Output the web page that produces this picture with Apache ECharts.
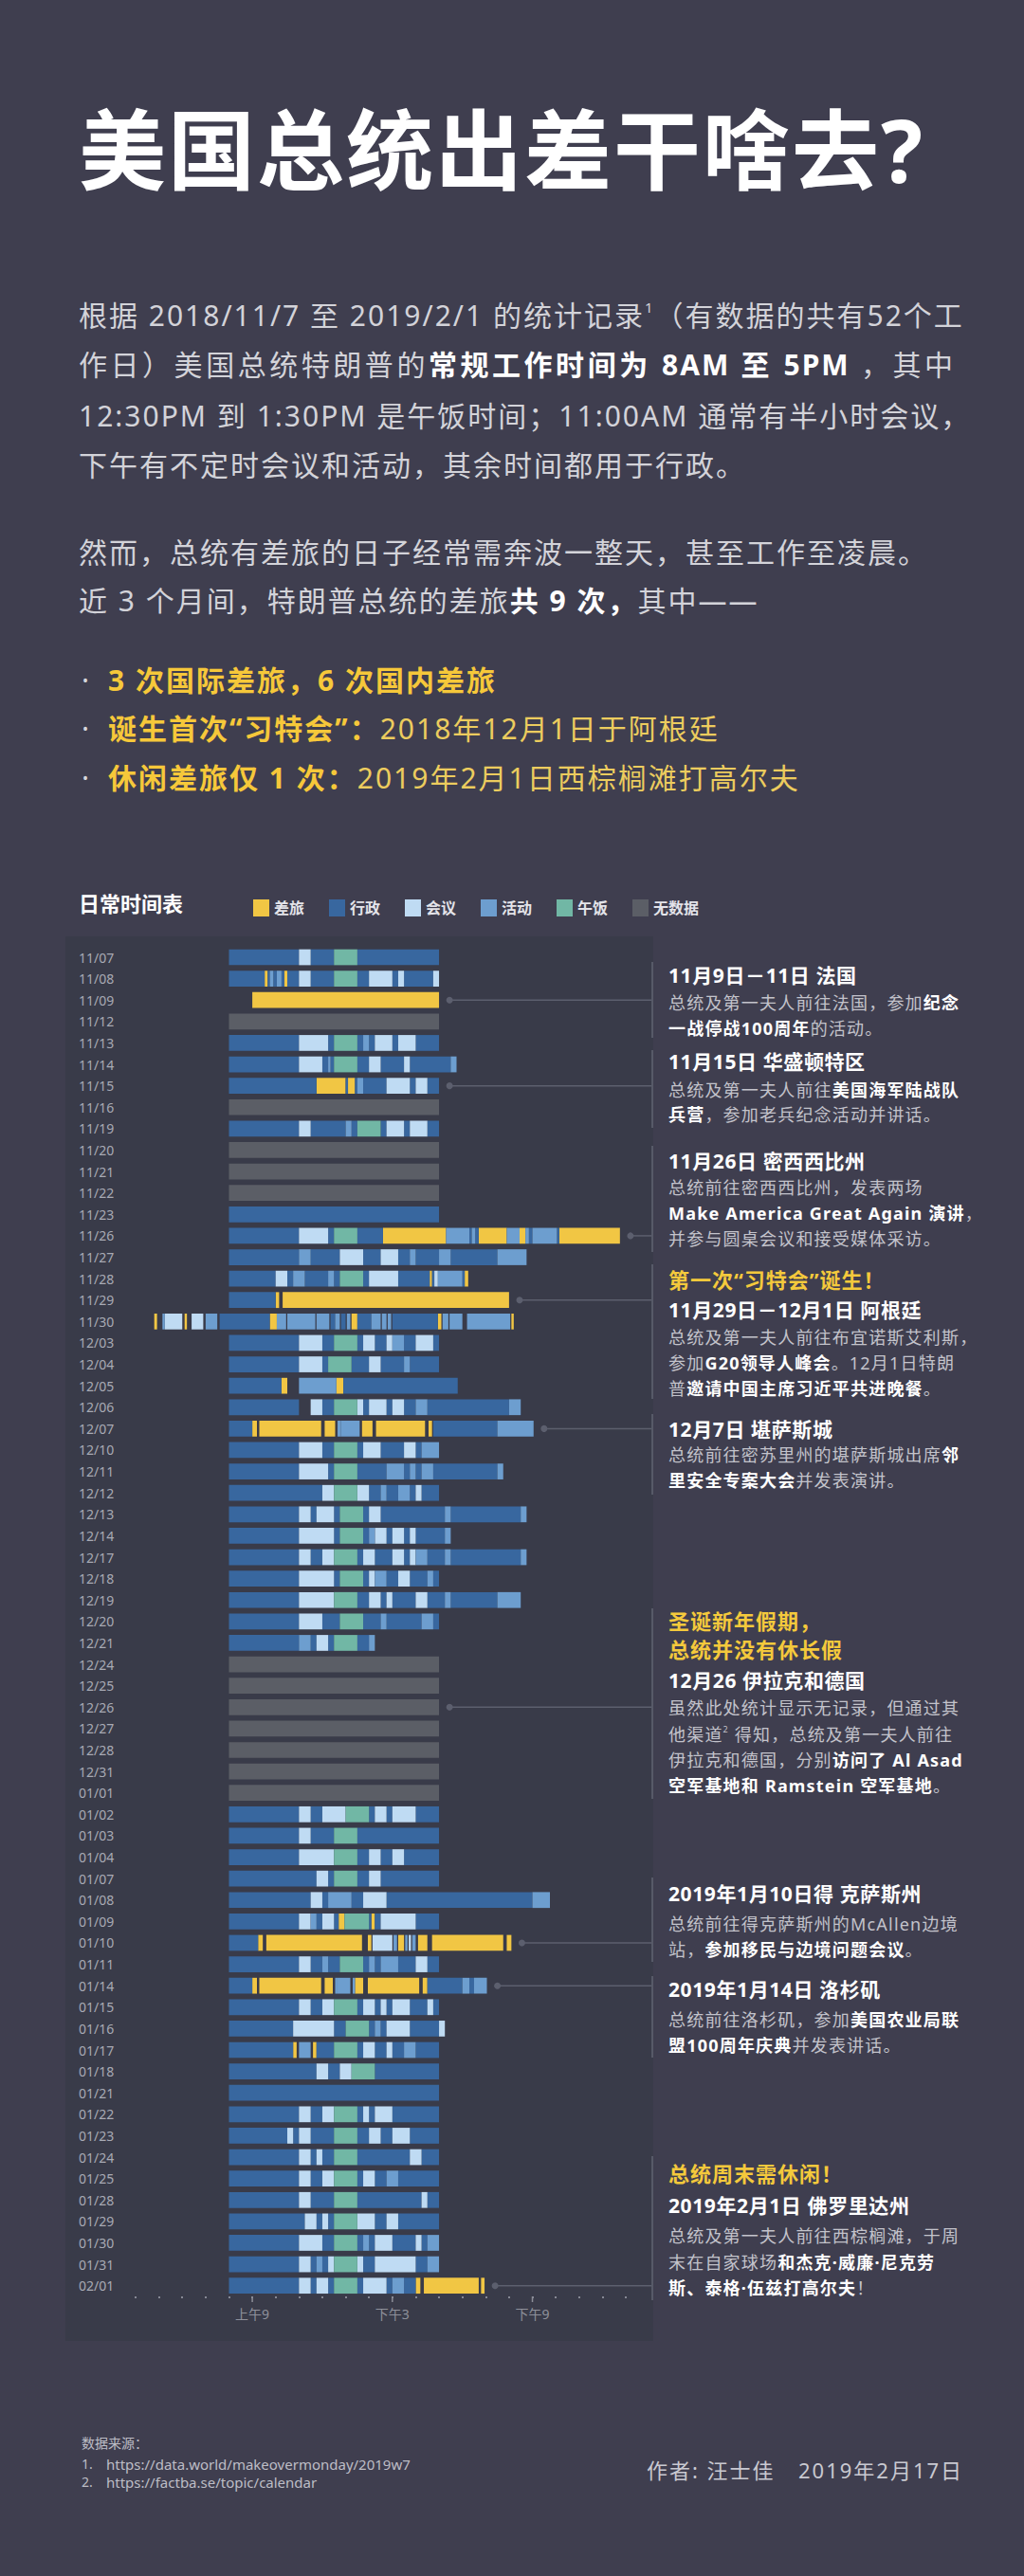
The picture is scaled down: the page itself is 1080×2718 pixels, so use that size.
<!DOCTYPE html>
<html><head><meta charset="utf-8">
<script src="https://cdn.jsdelivr.net/npm/echarts@6/dist/echarts.min.js"></script>
<style>
html,body{margin:0;padding:0;}
body{background:#3f3e4f;width:1080px;height:2718px;overflow:hidden;position:relative;font-family:"Noto Sans","Noto Sans CJK SC",sans-serif;}
#chart{position:absolute;left:0;top:0;width:1080px;height:2718px;}
.ln{position:absolute;white-space:nowrap;line-height:1;transform:translateY(-50%);z-index:5;}
.title{left:83px;font-size:92px;font-weight:bold;color:#fff;letter-spacing:2px;}
.p{left:83px;font-size:30px;color:#d3d3d9;letter-spacing:2px;}
.p b{color:#fff;}
.j{width:924px;text-align:justify;text-align-last:justify;}
.bl{left:86px;font-size:30px;color:#eccc5e;letter-spacing:2px;}
.bl b{color:#f6c83a;}
.bl .dot{display:inline-block;width:28px;color:#d6d6dc;font-family:"Noto Sans",sans-serif;text-align:left;}
.a{left:705px;}
.h{font-size:21px;font-weight:bold;color:#fff;letter-spacing:0.6px;}
.y{font-size:22px;font-weight:bold;color:#f4c93c;letter-spacing:1px;}
.b{font-size:18px;color:#c3c3cb;letter-spacing:1.2px;}
.b b{color:#fff;}
sup{font-size:0.5em;vertical-align:top;position:relative;top:-0.1em;}
.vb{position:absolute;left:687px;width:2px;background:#575a68;z-index:4;}
.src{left:86px;font-size:14px;color:#bdbdc6;}
.auth{font-size:22px;color:#c9c9d1;letter-spacing:2px;}
</style></head>
<body>
<div id="chart"></div>

<div class="ln title" style="top:158px">美国总统出差干啥去?</div>

<div class="ln p j" style="top:333px">根据 2018/11/7 至 2019/2/1 的统计记录<sup>1</sup>（有数据的共有52个工</div>
<div class="ln p j" style="top:385px">作日）美国总统特朗普的<b>常规工作时间为 8AM 至 5PM</b> ，其中</div>
<div class="ln p" style="top:439px">12:30PM 到 1:30PM 是午饭时间；11:00AM 通常有半小时会议，</div>
<div class="ln p" style="top:491px">下午有不定时会议和活动，其余时间都用于行政。</div>
<div class="ln p" style="top:583px">然而，总统有差旅的日子经常需奔波一整天，甚至工作至凌晨。</div>
<div class="ln p" style="top:634px">近 3 个月间，特朗普总统的差旅<b>共 9 次，</b>其中——</div>

<div class="ln bl" style="top:718px"><span class="dot">·</span><b>3 次国际差旅，6 次国内差旅</b></div>
<div class="ln bl" style="top:769px"><span class="dot">·</span><b>诞生首次“习特会”：</b>2018年12月1日于阿根廷</div>
<div class="ln bl" style="top:821px"><span class="dot">·</span><b>休闲差旅仅 1 次：</b>2019年2月1日西棕榈滩打高尔夫</div>

<div class="ln" style="top:953px;left:83px;font-size:22px;font-weight:bold;color:#fff;">日常时间表</div>

<!-- annotations -->
<div class="vb" style="top:1015px;height:80px"></div>
<div class="ln a h" style="top:1029px">11月9日－11日 法国</div>
<div class="ln a b" style="top:1058px">总统及第一夫人前往法国，参加<b>纪念</b></div>
<div class="ln a b" style="top:1085px"><b>一战停战100周年</b>的活动。</div>

<div class="vb" style="top:1108px;height:82px"></div>
<div class="ln a h" style="top:1120px">11月15日 华盛顿特区</div>
<div class="ln a b" style="top:1150px">总统及第一夫人前往<b>美国海军陆战队</b></div>
<div class="ln a b" style="top:1176px"><b>兵营</b>，参加老兵纪念活动并讲话。</div>

<div class="vb" style="top:1209px;height:112px"></div>
<div class="ln a h" style="top:1225px">11月26日 密西西比州</div>
<div class="ln a b" style="top:1253px">总统前往密西西比州，发表两场</div>
<div class="ln a b" style="top:1280px"><b>Make America Great Again 演讲</b>，</div>
<div class="ln a b" style="top:1307px">并参与圆桌会议和接受媒体采访。</div>

<div class="vb" style="top:1334px;height:142px"></div>
<div class="ln a y" style="top:1350px">第一次“习特会”诞生！</div>
<div class="ln a h" style="top:1382px">11月29日－12月1日 阿根廷</div>
<div class="ln a b" style="top:1411px">总统及第一夫人前往布宜诺斯艾利斯，</div>
<div class="ln a b" style="top:1438px">参加<b>G20领导人峰会</b>。12月1日特朗</div>
<div class="ln a b" style="top:1465px">普<b>邀请中国主席习近平共进晚餐</b>。</div>

<div class="vb" style="top:1492px;height:85px"></div>
<div class="ln a h" style="top:1508px">12月7日 堪萨斯城</div>
<div class="ln a b" style="top:1535px">总统前往密苏里州的堪萨斯城出席<b>邻</b></div>
<div class="ln a b" style="top:1562px"><b>里安全专案大会</b>并发表演讲。</div>

<div class="vb" style="top:1697px;height:201px"></div>
<div class="ln a y" style="top:1710px">圣诞新年假期，</div>
<div class="ln a y" style="top:1740px">总统并没有休长假</div>
<div class="ln a h" style="top:1773px">12月26 伊拉克和德国</div>
<div class="ln a b" style="top:1802px">虽然此处统计显示无记录，但通过其</div>
<div class="ln a b" style="top:1830px">他渠道<sup>2</sup> 得知，总统及第一夫人前往</div>
<div class="ln a b" style="top:1857px">伊拉克和德国，分别<b>访问了 Al Asad</b></div>
<div class="ln a b" style="top:1884px"><b>空军基地和 Ramstein 空军基地</b>。</div>

<div class="vb" style="top:1981px;height:89px"></div>
<div class="ln a h" style="top:1998px">2019年1月10日得 克萨斯州</div>
<div class="ln a b" style="top:2030px">总统前往得克萨斯州的McAllen边境</div>
<div class="ln a b" style="top:2057px">站，<b>参加移民与边境问题会议</b>。</div>

<div class="vb" style="top:2085px;height:86px"></div>
<div class="ln a h" style="top:2099px">2019年1月14日 洛杉矶</div>
<div class="ln a b" style="top:2131px">总统前往洛杉矶，参加<b>美国农业局联</b></div>
<div class="ln a b" style="top:2158px"><b>盟100周年庆典</b>并发表讲话。</div>

<div class="vb" style="top:2275px;height:152px"></div>
<div class="ln a y" style="top:2293px">总统周末需休闲！</div>
<div class="ln a h" style="top:2327px">2019年2月1日 佛罗里达州</div>
<div class="ln a b" style="top:2359px">总统及第一夫人前往西棕榈滩，于周</div>
<div class="ln a b" style="top:2387px">末在自家球场<b>和杰克·威廉·尼克劳</b></div>
<div class="ln a b" style="top:2414px"><b>斯、泰格·伍兹打高尔夫</b>！</div>

<!-- footer -->
<div class="ln src" style="top:2578px">数据来源：</div>
<div class="ln src" style="top:2600px">1.</div>
<div class="ln src" style="top:2600px;left:112px;font-size:15px">https://data.world/makeovermonday/2019w7</div>
<div class="ln src" style="top:2619px">2.</div>
<div class="ln src" style="top:2619px;left:112px;font-size:15px">https://factba.se/topic/calendar</div>
<div class="ln auth" style="top:2606px;left:682px">作者: 汪士佳</div>
<div class="ln auth" style="top:2606px;left:842px">2019年2月17日</div>

<script>
// ---------- DATA ----------
const dates = ['11/07','11/08','11/09','11/12','11/13','11/14','11/15','11/16','11/19','11/20','11/21','11/22','11/23','11/26','11/27','11/28','11/29','11/30',
  '12/03','12/04','12/05','12/06','12/07','12/10','12/11','12/12','12/13','12/14','12/17','12/18','12/19','12/20','12/21','12/24','12/25','12/26','12/27','12/28','12/31',
  '01/01','01/02','01/03','01/04','01/07','01/08','01/09','01/10','01/11','01/14','01/15','01/16','01/17','01/18','01/21','01/22','01/23','01/24','01/25','01/28','01/29','01/30','01/31',
  '02/01'];
const typeNames = ['差旅','行政','会议','活动','午饭','无数据'];
const hourLabels = {9:'上午9', 15:'下午3', 21:'下午9'};
const majorHours = [9, 15, 21];
const annotatedDates = ['11/09','11/15','11/26','11/29','12/07','12/26','01/10','01/14','02/01'];
// each day: [startHour, endHour, typeIndex]
const schedule = [
/*11/07*/ [[8,11,1],[11,11.5,2],[11.5,12.5,1],[12.5,13.5,4],[13.5,17,1]],
/*11/08*/ [[8,9.53,1],[9.53,9.66,0],[9.66,9.75,1],[9.75,9.9,3],[9.9,10.05,1],[10.05,10.25,3],[10.25,10.37,1],[10.37,10.5,0],[10.5,11,1],[11,11.5,2],[11.5,12.5,1],[12.5,13.5,4],[13.5,14,1],[14,15,2],[15,15.25,1],[15.25,15.5,2],[15.5,16.75,1],[16.75,17,2]],
/*11/09*/ [[9,17,0]],
/*11/12*/ [[8,17,5]],
/*11/13*/ [[8,11,1],[11,12.25,2],[12.25,12.5,1],[12.5,13.5,4],[13.5,13.75,1],[13.75,14,3],[14,14.25,1],[14.25,15,2],[15,15.25,1],[15.25,16,2],[16,17,1]],
/*11/14*/ [[8,11,1],[11,12,2],[12,12.25,1],[12.25,12.35,3],[12.35,12.5,1],[12.5,13.5,4],[13.5,14,1],[14,14.5,2],[14.5,15.5,1],[15.5,15.75,2],[15.75,17.5,1],[17.5,17.75,3]],
/*11/15*/ [[8,11.75,1],[11.75,13,0],[13,13.1,1],[13.1,13.4,0],[13.4,13.5,1],[13.5,13.75,3],[13.75,14.75,1],[14.75,15.75,2],[15.75,16,1],[16,16.5,2],[16.5,17,1]],
/*11/16*/ [[8,17,5]],
/*11/19*/ [[8,11,1],[11,11.5,2],[11.5,13,1],[13,13.25,3],[13.25,13.5,1],[13.5,14.5,4],[14.5,14.75,1],[14.75,15.5,2],[15.5,15.75,1],[15.75,16.5,2],[16.5,17,1]],
/*11/20*/ [[8,17,5]],
/*11/21*/ [[8,17,5]],
/*11/22*/ [[8,17,5]],
/*11/23*/ [[8,17,1]],
/*11/26*/ [[8,11,1],[11,12.25,2],[12.25,12.5,1],[12.5,13.5,4],[13.5,14.6,1],[14.6,17.3,0],[17.3,18.3,3],[18.3,18.4,1],[18.4,18.55,3],[18.55,18.7,1],[18.7,19.9,0],[19.9,20.45,3],[20.45,20.7,0],[20.7,20.85,3],[20.85,21,1],[21,22.05,3],[22.05,22.15,1],[22.15,24.75,0]],
/*11/27*/ [[8,11,1],[11,11.5,3],[11.5,12.75,1],[12.75,13.75,2],[13.75,14.5,1],[14.5,15.25,2],[15.25,15.75,1],[15.75,16,3],[16,17,1],[17,17.5,3],[17.5,19.5,1],[19.5,20.75,3]],
/*11/28*/ [[8,10,1],[10,10.5,2],[10.5,10.75,1],[10.75,11.25,3],[11.25,12.25,1],[12.25,12.5,3],[12.5,12.75,1],[12.75,13.75,4],[13.75,14,1],[14,15.25,2],[15.25,16.6,1],[16.6,16.7,0],[16.7,16.8,1],[16.8,16.95,2],[16.95,18,3],[18,18.1,1],[18.1,18.25,0]],
/*11/29*/ [[8,10,1],[10,10.15,0],[10.3,20,0]],
/*11/30*/ [[4.8,4.92,0],[5.15,5.25,3],[5.25,6,2],[6.1,6.2,0],[6.4,6.9,2],[7,7.5,3],[7.6,9.75,1],[9.75,10.05,0],[10.05,10.45,3],[10.5,11.7,3],[11.75,12.3,3],[12.35,12.55,1],[12.55,12.75,3],[12.8,13,1],[13.05,13.2,3],[13.25,13.5,0],[13.5,14.1,1],[14.1,14.5,3],[14.55,14.75,3],[14.8,14.95,3],[15,16.95,1],[16.95,17.1,0],[17.15,17.4,3],[17.45,18,3],[18.2,20.05,3],[20.1,20.2,0]],
/*12/03*/ [[8,11,1],[11,12,2],[12,12.5,1],[12.5,13.5,4],[13.5,13.75,1],[13.75,14.25,2],[14.25,14.75,1],[14.75,15,2],[15,15.5,3],[15.5,16,1],[16,16.75,2],[16.75,17,1]],
/*12/04*/ [[8,11,1],[11,12,2],[12,12.25,1],[12.25,13.25,4],[13.25,14,1],[14,14.5,2],[14.5,15.5,1],[15.5,15.75,3],[15.75,17,1]],
/*12/05*/ [[8,10.25,1],[10.25,10.5,0],[11,12.6,3],[12.6,12.9,0],[12.9,17.8,1]],
/*12/06*/ [[8,11,1],[11.5,12,2],[12,12.5,1],[12.5,13.5,4],[13.5,13.75,2],[13.75,14,1],[14,14.75,2],[14.75,15,1],[15,15.5,2],[15.5,16,1],[16,16.5,3],[16.5,20,1],[20,20.5,3]],
/*12/07*/ [[8,9,1],[9,9.2,0],[9.3,11.95,0],[12.1,12.55,0],[12.65,12.8,3],[12.8,13.6,3],[13.7,14.15,0],[14.3,16.4,0],[16.55,16.7,0],[16.75,19.5,1],[19.5,21.05,3]],
/*12/10*/ [[8,11,1],[11,12,2],[12,12.5,1],[12.5,13.5,4],[13.5,13.75,1],[13.75,14.5,2],[14.5,15.5,1],[15.5,16,2],[16,16.25,1],[16.25,17,3]],
/*12/11*/ [[8,11,1],[11,12.25,2],[12.25,12.5,1],[12.5,13.5,4],[13.5,14.75,1],[14.75,15.5,3],[15.5,15.75,1],[15.75,16,3],[16,16.25,1],[16.25,16.75,3],[16.75,19.5,1],[19.5,19.75,3]],
/*12/12*/ [[8,12,1],[12,12.5,2],[12.5,13.5,4],[13.5,14,2],[14,14.5,1],[14.5,14.75,3],[14.75,15.25,1],[15.25,15.75,3],[15.75,16,1],[16,16.25,2],[16.25,17,1]],
/*12/13*/ [[8,11,1],[11,11.5,2],[11.5,11.75,1],[11.75,12.5,2],[12.5,12.75,1],[12.75,13.75,4],[13.75,14,1],[14,14.5,2],[14.5,17.25,1],[17.25,17.5,3],[17.5,20.5,1],[20.5,20.75,3]],
/*12/14*/ [[8,11,1],[11,12.5,2],[12.5,12.75,1],[12.75,13.75,4],[13.75,14,1],[14,14.25,3],[14.25,14.75,2],[14.75,15,1],[15,15.5,2],[15.5,15.75,1],[15.75,16,2],[16,17.25,1],[17.25,17.5,3]],
/*12/17*/ [[8,11,1],[11,11.5,2],[11.5,12,1],[12,12.5,2],[12.5,13.5,4],[13.5,13.75,1],[13.75,14.25,2],[14.25,15,1],[15,15.5,2],[15.5,15.75,1],[15.75,16,2],[16,16.5,3],[16.5,17.25,1],[17.25,17.5,3],[17.5,20.5,1],[20.5,20.75,3]],
/*12/18*/ [[8,11,1],[11,12.5,2],[12.5,12.75,1],[12.75,13.75,4],[13.75,14,1],[14,14.25,2],[14.25,14.75,3],[14.75,15.25,1],[15.25,15.75,2],[15.75,16.5,1],[16.5,16.75,3],[16.75,17,1]],
/*12/19*/ [[8,11,1],[11,12.5,2],[12.5,13.5,4],[13.5,14,1],[14,14.5,2],[14.5,14.75,1],[14.75,15,2],[15,16,1],[16,16.5,2],[16.5,17.25,1],[17.25,17.5,3],[17.5,19.5,1],[19.5,20.5,3]],
/*12/20*/ [[8,11,1],[11,12,2],[12,12.75,1],[12.75,13.75,4],[13.75,14.5,1],[14.5,14.75,3],[14.75,16.25,1],[16.25,16.75,3],[16.75,17,1]],
/*12/21*/ [[8,11,1],[11,11.5,3],[11.5,11.75,1],[11.75,12.25,2],[12.25,12.5,1],[12.5,13.5,4],[13.5,14,1],[14,14.25,3]],
/*12/24*/ [[8,17,5]],
/*12/25*/ [[8,17,5]],
/*12/26*/ [[8,17,5]],
/*12/27*/ [[8,17,5]],
/*12/28*/ [[8,17,5]],
/*12/31*/ [[8,17,5]],
/*01/01*/ [[8,17,5]],
/*01/02*/ [[8,11,1],[11,11.5,2],[11.5,12,1],[12,13,2],[13,14,4],[14,14.25,1],[14.25,14.75,2],[14.75,15,1],[15,16,2],[16,17,1]],
/*01/03*/ [[8,11,1],[11,11.5,2],[11.5,12.5,1],[12.5,13.5,4],[13.5,17,1]],
/*01/04*/ [[8,11,1],[11,12.5,2],[12.5,13.5,4],[13.5,14,1],[14,14.5,2],[14.5,15,1],[15,15.5,2],[15.5,17,1]],
/*01/07*/ [[8,11.75,1],[11.75,12.25,2],[12.25,12.5,1],[12.5,13.5,4],[13.5,14,1],[14,14.5,2],[14.5,17,1]],
/*01/08*/ [[8,11.5,1],[11.5,12,2],[12,12.25,1],[12.25,13.25,3],[13.25,13.75,1],[13.75,14.75,2],[14.75,21,1],[21,21.75,3]],
/*01/09*/ [[8,11,1],[11,11.5,2],[11.5,11.75,3],[11.75,12,1],[12,12.5,2],[12.5,12.7,1],[12.7,12.95,0],[12.95,14,4],[14,14.1,1],[14.1,14.25,0],[14.25,14.5,1],[14.5,16,2],[16,17,1]],
/*01/10*/ [[8,9.25,1],[9.25,9.45,0],[9.6,13.7,0],[13.95,14.1,0],[14.15,15,2],[15.05,15.2,3],[15.25,15.5,0],[15.55,15.65,3],[15.7,15.8,2],[15.85,16,3],[16.1,16.5,0],[16.7,19.75,0],[19.9,20.1,0]],
/*01/11*/ [[8,11,1],[11,11.5,2],[11.5,12,1],[12,12.25,3],[12.25,12.75,1],[12.75,13.75,4],[13.75,14,1],[14,14.25,3],[14.25,14.5,1],[14.5,15.25,3],[15.25,16,1],[16,16.5,2],[16.5,17,1]],
/*01/14*/ [[8,9,1],[9,9.2,0],[9.3,11.95,0],[12.1,12.45,0],[12.55,12.65,3],[12.65,13.2,3],[13.3,13.4,3],[13.4,13.75,0],[13.95,16.15,0],[16.3,16.5,0],[16.5,18,1],[18,18.3,3],[18.3,18.5,1],[18.5,19.05,3]],
/*01/15*/ [[8,11,1],[11,11.5,2],[11.5,12,1],[12,12.5,2],[12.5,13.5,4],[13.5,13.75,1],[13.75,14.25,2],[14.25,14.5,1],[14.5,14.75,2],[14.75,15,1],[15,15.75,2],[15.75,16.5,1],[16.5,16.75,2],[16.75,17,1]],
/*01/16*/ [[8,10.75,1],[10.75,12.5,2],[12.5,13,1],[13,14,4],[14,14.25,1],[14.25,14.5,3],[14.5,14.75,1],[14.75,15.75,2],[15.75,17,1],[17,17.25,2]],
/*01/17*/ [[8,10.75,1],[10.75,10.9,0],[11,11.5,3],[11.6,11.75,0],[11.75,12.5,1],[12.5,13.5,4],[13.5,13.75,1],[13.75,14.25,2],[14.25,14.75,1],[14.75,15,2],[15,15.5,1],[15.5,16,3],[16,17,1]],
/*01/18*/ [[8,11.75,1],[11.75,12.25,2],[12.25,12.75,1],[12.75,13.25,2],[13.25,14.25,4],[14.25,17,1]],
/*01/21*/ [[8,17,1]],
/*01/22*/ [[8,11,1],[11,11.5,2],[11.5,12,1],[12,12.5,2],[12.5,13.5,4],[13.5,13.75,1],[13.75,14,2],[14,14.25,1],[14.25,15,2],[15,17,1]],
/*01/23*/ [[8,10.5,1],[10.5,10.75,2],[10.75,11,1],[11,11.5,2],[11.5,12.5,1],[12.5,13.5,4],[13.5,14,1],[14,14.5,2],[14.5,15,1],[15,15.75,2],[15.75,17,1]],
/*01/24*/ [[8,11,1],[11,11.5,2],[11.5,11.75,1],[11.75,12,2],[12,12.5,1],[12.5,13.5,4],[13.5,15.75,1],[15.75,16.25,2],[16.25,17,1]],
/*01/25*/ [[8,11,1],[11,11.5,2],[11.5,12,1],[12,12.5,2],[12.5,13.5,4],[13.5,13.75,1],[13.75,14.25,2],[14.25,14.75,1],[14.75,15.25,3],[15.25,17,1]],
/*01/28*/ [[8,11,1],[11,11.5,2],[11.5,12.5,1],[12.5,13.5,4],[13.5,16.25,1],[16.25,16.5,2],[16.5,17,1]],
/*01/29*/ [[8,11.25,1],[11.25,11.75,2],[11.75,12,1],[12,12.25,2],[12.25,12.5,1],[12.5,13.5,4],[13.5,14.25,2],[14.25,14.75,1],[14.75,15.25,2],[15.25,17,1]],
/*01/30*/ [[8,11,1],[11,12,2],[12,12.5,1],[12.5,13.5,4],[13.5,13.75,1],[13.75,14,3],[14,14.25,1],[14.25,15,2],[15,16,1],[16,16.25,2],[16.25,16.5,1],[16.5,17,3]],
/*01/31*/ [[8,11,1],[11,11.5,2],[11.5,11.75,1],[11.75,12,3],[12,12.25,1],[12.25,12.5,2],[12.5,13.5,4],[13.5,13.75,2],[13.75,14.25,1],[14.25,16,2],[16,16.5,1],[16.5,17,3]],
/*02/01*/ [[8,11,1],[11,11.5,2],[11.5,11.75,1],[11.75,12.25,2],[12.25,12.5,1],[12.5,13.5,4],[13.5,13.75,1],[13.75,14.75,2],[14.75,15,1],[15,15.5,3],[15.5,16,1],[16,16.2,0],[16.35,18.7,0],[18.8,18.95,0]]
];

// ---------- STYLE ----------
const typeColors = ['#f1c644','#38679f','#bfdbf3','#6d9ecf','#71b7a5','#5b5e66'];
const lineGrey = '#5c5f6e';
const annotationX = 688;

const chart = echarts.init(document.getElementById('chart'), null, {renderer:'svg'});

function renderBar(params, api){
  const s = api.coord([api.value(0), api.value(2)]);
  const e = api.coord([api.value(1), api.value(2)]);
  const h = api.size([0,1])[1] * 0.74;
  return {type:'rect', shape:{x:s[0], y:s[1]-h/2, width:e[0]-s[0], height:h}, style:{fill: api.visual('color')}};
}

const barSeries = typeNames.map((name, t) => ({
  type:'custom', name, renderItem: renderBar, encode:{x:[0,1], y:2},
  itemStyle:{color: typeColors[t]}, silent:true, z:3,
  data: schedule.flatMap((segs, row) => segs.filter(s => s[2] === t).map(s => [s[0], s[1], row]))
}));

const connectorData = annotatedDates.map(d => {
  const r = dates.indexOf(d);
  const end = Math.max(...schedule[r].map(s => s[1]));
  return [end + 0.45, r];
});

const option = {
  animation:false,
  backgroundColor:'transparent',
  textStyle:{fontFamily:'"Noto Sans","Noto Sans CJK SC",sans-serif'},
  graphic:[{type:'rect', left:69, top:988, shape:{width:620, height:1482}, style:{fill:'#393b49'}, z:0, silent:true}],
  legend:{
    data:typeNames, left:262, top:944, icon:'rect', itemWidth:17, itemHeight:18, itemGap:26,
    selectedMode:false, textStyle:{color:'#e4e4ea', fontSize:16, fontWeight:'bold'}
  },
  grid:{left:143, right:420, top:998.7, bottom:295},
  xAxis:{
    type:'value', min:4, max:25, interval:1,
    axisLine:{show:false}, splitLine:{show:false},
    axisTick:{show:true, length:2, lineStyle:{color:'#868894', width:2}},
    axisLabel:{color:'#8f919b', fontSize:14, margin:11, formatter: v => hourLabels[v] || ''}
  },
  yAxis:{
    type:'category', data:dates, inverse:true,
    axisLine:{show:false}, axisTick:{show:false}, splitLine:{show:false},
    axisLabel:{interval:0, align:'left', margin:60, color:'#a8aab4', fontSize:14}
  },
  series:[
    ...barSeries,
    {type:'custom', name:'connector', silent:true, z:2, encode:{x:0, y:1}, data:connectorData,
      renderItem:(p, api) => {
        const c = api.coord([api.value(0), api.value(1)]);
        return {type:'group', children:[
          {type:'line', shape:{x1:c[0], y1:c[1], x2:annotationX, y2:c[1]}, style:{stroke:lineGrey, lineWidth:1.5}},
          {type:'circle', shape:{cx:c[0], cy:c[1], r:3.5}, style:{fill:lineGrey}}
        ]};
      }},
    {type:'custom', name:'majorTick', silent:true, z:2, encode:{x:0}, data:majorHours.map(h => [h]),
      renderItem:(p, api) => {
        const c = api.coord([api.value(0), dates.length - 1]);
        const y0 = c[1] + api.size([0,1])[1] / 2;
        return {type:'line', shape:{x1:c[0], y1:y0, x2:c[0], y2:y0 + 6}, style:{stroke:'#8c8e98', lineWidth:1.5}};
      }}
  ]
};
chart.setOption(option);
</script>
</body></html>
